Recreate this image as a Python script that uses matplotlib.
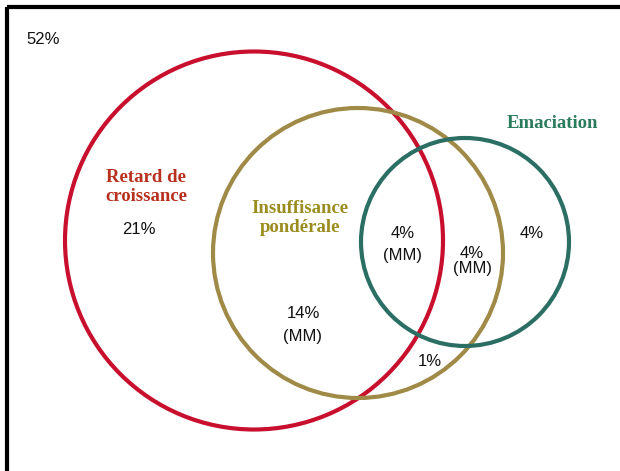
"""
venn-style overlap of child malnutrition forms (stunting / underweight / wasting)
"""

import matplotlib.pyplot as plt
from matplotlib.patches import Circle

# circles: name, centre (px), radius (px), line colour, label colour
circle_names = ["Retard de\ncroissance", "Insuffisance\npondérale", "Emaciation"]
circle_cx = [254, 358, 465]
circle_cy = [240.5, 253, 242]
circle_r = [189, 145, 104]
circle_colors = ["#C8102E", "#A08A48", "#2B6F64"]
label_colors = ["#B8301E", "#9A8C1E", "#2A7A5C"]
label_pos = [(146, 187), (300, 218), (552, 124)]

# region shares and where they sit
region_labels = ["52%", "21%", "14%\n(MM)", "4%\n(MM)", "4%\n(MM)", "4%", "1%"]
region_pos = [(43, 40), (139, 230), (303, 325), (403, 244.5), (472, 260.5), (532, 233), (430, 362)]
region_spacing = [1.0, 1.0, 1.7, 1.56, 1.0, 1.0, 1.0]

W, H = 620, 471

fig = plt.figure(figsize=(W / 100, H / 100), dpi=100)
ax = fig.add_axes([0, 0, 1, 1])
ax.set_xlim(0, W)
ax.set_ylim(H, 0)
ax.set_aspect("equal")
ax.axis("off")

# frame (only top and left edges are visible in the crop)
ax.plot([7, W], [7, 7], color="black", lw=3.0, solid_capstyle="butt")
ax.plot([7, 7], [7, H], color="black", lw=3.0, solid_capstyle="butt")

# circles - olive first, then teal, red on top
for i in [1, 2, 0]:
    ax.add_patch(Circle((circle_cx[i], circle_cy[i]), circle_r[i], fill=False,
                        edgecolor=circle_colors[i], lw=3.0, zorder=2 + i))

for name, (x, y), c in zip(circle_names, label_pos, label_colors):
    ax.text(x, y, name, ha="center", va="center", color=c, fontsize=13.5,
            fontweight="bold", family="Liberation Serif", linespacing=1.18, zorder=6)

for lab, (x, y), sp in zip(region_labels, region_pos, region_spacing):
    ax.text(x, y, lab, ha="center", va="center", color="#111111", fontsize=12,
            family="Liberation Sans", linespacing=sp, zorder=6)

plt.savefig("out.png", dpi=100)
plt.close()
